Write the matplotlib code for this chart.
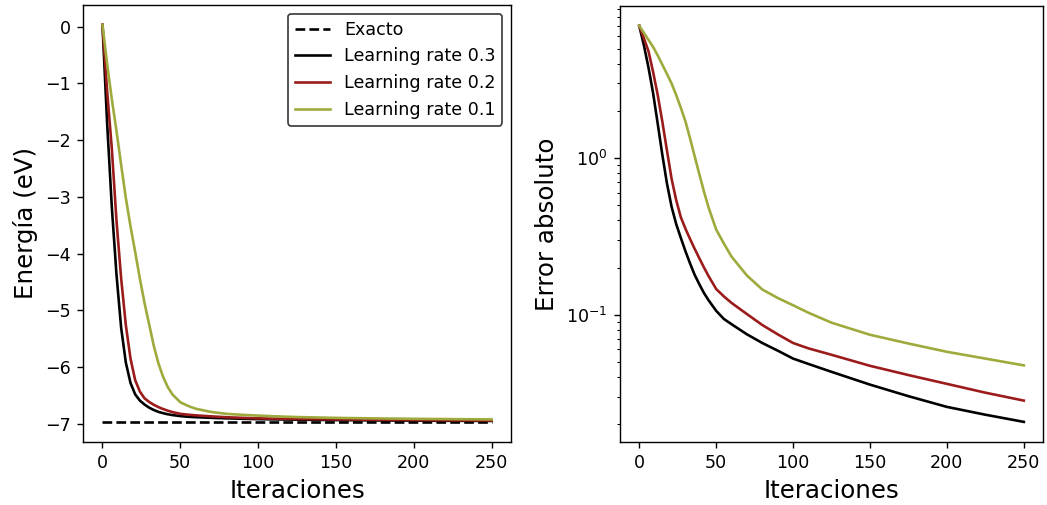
import matplotlib
matplotlib.use("Agg")
import matplotlib.pyplot as plt
import numpy as np

iteraciones = [0, 3, 6, 9, 12, 15, 18, 21, 24, 27, 30, 33, 36, 39, 42, 45,
               50, 55, 60, 70, 80, 90, 100, 110, 125, 150, 175, 200, 225, 250]

# error absoluto para cada learning rate
error_lr03 = [7.0, 5.26, 3.79, 2.6, 1.66, 1.05, 0.69, 0.49, 0.38, 0.31, 0.255,
              0.213, 0.18, 0.157, 0.138, 0.124, 0.106, 0.094, 0.087, 0.075,
              0.066, 0.059, 0.0525, 0.0485, 0.0432, 0.0358, 0.0302, 0.0258,
              0.0230, 0.0207]
error_lr02 = [7.0, 5.83, 4.82, 3.55, 2.53, 1.71, 1.12, 0.74, 0.54, 0.42, 0.355,
              0.305, 0.264, 0.23, 0.201, 0.177, 0.146, 0.131, 0.119, 0.101,
              0.086, 0.075, 0.066, 0.061, 0.0555, 0.0472, 0.0412, 0.0362,
              0.0318, 0.0283]
error_lr01 = [7.0, 6.31, 5.69, 5.13, 4.53, 3.95, 3.45, 3.0, 2.53, 2.1, 1.72,
              1.34, 1.03, 0.794, 0.615, 0.486, 0.35, 0.285, 0.235, 0.178,
              0.145, 0.128, 0.115, 0.103, 0.089, 0.0745, 0.0655, 0.058,
              0.0525, 0.0475]

energia_exacta = -6.97
etiquetas = ['Learning rate 0.3', 'Learning rate 0.2', 'Learning rate 0.1']
colores = ['black', '#9b1b1b', '#9eaa3c']

dpi = 126
fig = plt.figure(figsize=(1047 / dpi, 505 / dpi), dpi=dpi)
ax1 = fig.add_axes([0.0793, 0.1248, 0.4088, 0.8653])
ax2 = fig.add_axes([0.5922, 0.1254, 0.4040, 0.8627])

it = np.array(iteraciones)
errores = [np.array(error_lr03), np.array(error_lr02), np.array(error_lr01)]

# energía = exacta + error
ax1.plot([it[0], it[-1]], [energia_exacta, energia_exacta], 'k--', lw=1.5, label='Exacto')
for err, lab, c in zip(errores, etiquetas, colores):
    ax1.plot(it, energia_exacta + err, color=c, lw=1.5, label=lab)
ax1.set_xlabel('Iteraciones', fontsize=14)
ax1.set_ylabel('Energía (eV)', fontsize=14)
leg = ax1.legend(loc='upper right', fontsize=10)
leg.get_frame().set_edgecolor('0.25')
leg.get_frame().set_alpha(1)

for err, lab, c in zip(errores, etiquetas, colores):
    ax2.plot(it, err, color=c, lw=1.5)
ax2.set_yscale('log')
ax2.set_xlabel('Iteraciones', fontsize=14)
ax2.set_ylabel('Error absoluto', fontsize=14)

fig.savefig('out.png', dpi=dpi)
